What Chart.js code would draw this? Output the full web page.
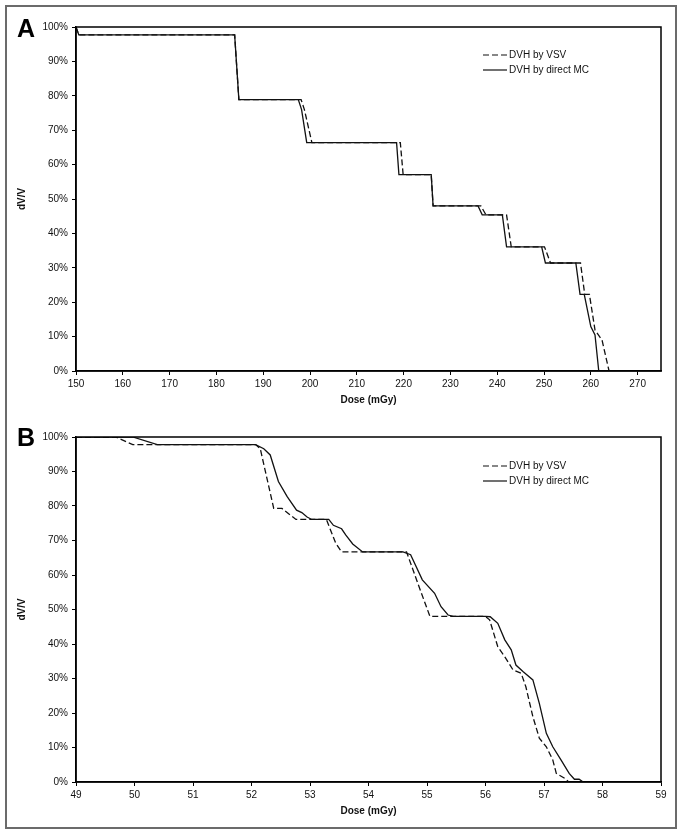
<!DOCTYPE html>
<html>
<head>
<meta charset="utf-8">
<script src="https://cdn.jsdelivr.net/npm/chart.js@4.4.0/dist/chart.umd.min.js"></script>
<style>
  body { margin: 0; background: #fff; }
  #wrap { position: relative; width: 682px; height: 835px; }
  #frame { position: absolute; left: 5px; top: 5px; width: 668px; height: 820px; border: 2px solid #6b6b6b; pointer-events: none; }
  canvas { position: absolute; left: 0; }
  .panel { position: absolute; left: 17px; font: bold 25px "Liberation Sans", Arial, sans-serif; color: #000; }
</style>
</head>
<body>
<div id="wrap">
  <canvas id="chartA" style="top:0px"></canvas>
  <canvas id="chartB" style="top:415px"></canvas>
  <div class="panel" style="top:14px">A</div>
  <div class="panel" style="top:423px">B</div>
  <div id="frame"></div>
</div>
<script>
// Panel A - dose (mGy) / dV/V (%)
const doseA_VSV = [150, 150.6, 183.9, 184.8, 198.1, 198.8, 200.4, 219.3, 219.9, 225.9, 226.3, 236.5, 237.6, 242.0, 243.0, 250.1, 251.4, 257.8, 258.7, 259.7, 260.9, 262.4, 263.9];
const volA_VSV  = [100, 97.7, 97.7, 78.9, 78.9, 76, 66.4, 66.4, 57.1, 57.1, 48, 48, 45.4, 45.4, 36.1, 36.1, 31.4, 31.4, 22.3, 22.3, 11.9, 9.0, 0];
const doseA_MC  = [150, 150.6, 183.9, 184.8, 197.5, 198.2, 199.3, 218.5, 219.0, 225.9, 226.3, 235.9, 236.8, 241.1, 242.0, 249.5, 250.3, 256.8, 257.7, 258.6, 260.0, 260.9, 261.7];
const volA_MC   = [100, 97.7, 97.7, 78.9, 78.9, 76, 66.4, 66.4, 57.1, 57.1, 48, 48, 45.4, 45.4, 36.1, 36.1, 31.4, 31.4, 22.3, 22.3, 12.9, 10.5, 0];

// Panel B
const doseB_VSV = [49, 49.68, 49.97, 52.07, 52.15, 52.38, 52.52, 52.76, 53.28, 53.44, 53.54, 54.65, 54.86, 55.05, 56.0, 56.07, 56.21, 56.33, 56.47, 56.61, 56.69, 56.81, 56.92, 57.04, 57.15, 57.21, 57.38, 57.42];
const volB_VSV  = [100, 100, 97.8, 97.8, 96.6, 79.3, 79.3, 76.1, 76.1, 69.2, 66.7, 66.7, 56.8, 48.0, 48.0, 47.0, 39.2, 36.3, 32.5, 31.5, 27.6, 18.9, 12.7, 10.2, 6.4, 2.5, 0.8, 0];
const doseB_MC  = [49, 49.97, 50.39, 52.07, 52.21, 52.32, 52.46, 52.61, 52.77, 52.86, 52.95, 53.03, 53.32, 53.40, 53.54, 53.61, 53.73, 53.90, 54.59, 54.72, 54.92, 55.13, 55.24, 55.36, 55.45, 56.0, 56.08, 56.21, 56.33, 56.44, 56.52, 56.64, 56.81, 56.92, 57.04, 57.15, 57.29, 57.43, 57.52, 57.60, 57.67];
const volB_MC   = [100, 100, 97.8, 97.8, 96.6, 94.8, 87.1, 82.7, 78.8, 78.1, 76.8, 76.1, 76.1, 74.4, 73.4, 71.6, 69.0, 66.7, 66.7, 65.9, 58.6, 54.7, 50.8, 48.4, 48.0, 48.0, 47.9, 46.0, 41.2, 38.3, 33.9, 32.0, 29.6, 22.8, 14.1, 10.2, 6.4, 2.5, 0.8, 0.8, 0];

const seriesNames = ['DVH by VSV', 'DVH by direct MC'];
const yTicks = [0, 100, 10];          // min, max, step (percent)
const xTicksA = [150, 275, 10];
const xTicksB = [49, 59, 1];

const FONT = '"Liberation Sans", Arial, sans-serif';

const toPoints = (xs, ys) => xs.map((x, i) => ({ x: x, y: ys[i] }));

// legend + plot border drawn inside the chart area
const boxAndLegend = {
    id: 'boxAndLegend',
    afterDatasetsDraw(chart, args, opts) {
        const { ctx, chartArea: a } = chart;
        ctx.save();
        ctx.strokeStyle = '#000';
        ctx.lineWidth = 1.5;
        ctx.strokeRect(a.left, a.top, a.right - a.left, a.bottom - a.top);

        ctx.font = '10px ' + FONT;
        ctx.fillStyle = '#111';
        ctx.textBaseline = 'middle';
        chart.data.datasets.forEach((ds, i) => {
            const y = opts.y + i * 15;
            ctx.beginPath();
            ctx.setLineDash(ds.borderDash || []);
            ctx.lineWidth = 1.2;
            ctx.strokeStyle = '#111';
            ctx.moveTo(opts.x, y);
            ctx.lineTo(opts.x + 24, y);
            ctx.stroke();
            ctx.setLineDash([]);
            ctx.fillText(ds.label, opts.x + 26, y);
        });
        ctx.restore();
    }
};

const makeChart = (id, height, padTop, axisHeight, titlePadBottom, xt, vsv, mc, legendY) => {
    const canvas = document.getElementById(id);
    canvas.width = 682;
    canvas.height = height;
    canvas.style.width = '682px';
    canvas.style.height = height + 'px';

    return new Chart(canvas.getContext('2d'), {
        type: 'line',
        data: {
            datasets: [
                { label: seriesNames[0], data: vsv, borderColor: '#111', borderWidth: 1.3, borderDash: [6, 3], pointRadius: 0, tension: 0, order: 2 },
                { label: seriesNames[1], data: mc, borderColor: '#111', borderWidth: 1.3, pointRadius: 0, tension: 0, order: 1 }
            ]
        },
        options: {
            responsive: false,
            animation: false,
            devicePixelRatio: 1,
            layout: { padding: { top: padTop, right: 21, left: 0, bottom: 0 } },
            scales: {
                x: {
                    type: 'linear',
                    min: xt[0],
                    max: xt[1],
                    afterFit: (s) => { s.height = axisHeight; },
                    ticks: { stepSize: xt[2], includeBounds: false, color: '#111', font: { family: FONT, size: 10 }, padding: 3, maxRotation: 0 },
                    grid: { drawOnChartArea: false, color: '#000', tickLength: 4, lineWidth: 1 },
                    border: { color: '#000', width: 1.5 },
                    title: { display: true, text: 'Dose (mGy)', color: '#111', font: { family: FONT, size: 10, weight: 'bold' }, padding: { top: 0, bottom: titlePadBottom } }
                },
                y: {
                    min: yTicks[0],
                    max: yTicks[1],
                    afterFit: (s) => { s.width = 76; },
                    ticks: { stepSize: yTicks[2], color: '#111', font: { family: FONT, size: 10 }, padding: 4, callback: (v) => v + '%' },
                    grid: { drawOnChartArea: false, color: '#000', tickLength: 4, lineWidth: 1 },
                    border: { color: '#000', width: 1.5 },
                    title: { display: true, text: 'dV/V', color: '#111', font: { family: FONT, size: 10, weight: 'bold' }, padding: { top: 16, bottom: 0 } }
                }
            },
            plugins: {
                legend: { display: false },
                tooltip: { enabled: false },
                boxAndLegend: { x: 483, y: legendY }
            }
        },
        plugins: [boxAndLegend]
    });
};

makeChart('chartA', 415, 27, 44, 9, xTicksA,
    toPoints(doseA_VSV, volA_VSV), toPoints(doseA_MC, volA_MC), 55);
makeChart('chartB', 415, 22, 48, 13, xTicksB,
    toPoints(doseB_VSV, volB_VSV), toPoints(doseB_MC, volB_MC), 51);
</script>
</body>
</html>
